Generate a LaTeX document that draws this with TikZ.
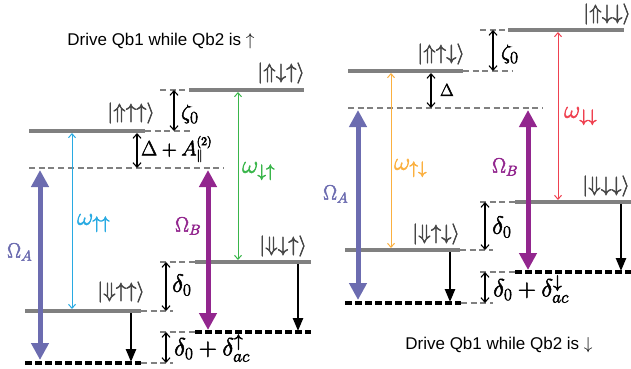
\documentclass[tikz,border=0pt]{standalone}
\usepackage{fontspec}
\newfontfamily\titlefont{Liberation Sans}
\usetikzlibrary{arrows.meta}
\DeclareMathSizes{18}{18}{13}{10}
\DeclareMathSizes{20}{20}{13}{10}
\DeclareMathSizes{21}{21}{15}{11}
\DeclareMathSizes{22}{22}{16}{11}
\DeclareMathSizes{23}{23}{17}{12}
\definecolor{cA}{RGB}{108,108,176}
\definecolor{cB}{RGB}{146,38,142}
\definecolor{cuu}{RGB}{40,170,226}
\definecolor{cdu}{RGB}{57,181,74}
\definecolor{cud}{RGB}{251,176,64}
\definecolor{cdd}{RGB}{239,65,80}
\definecolor{lev}{RGB}{128,128,128}
\definecolor{ketc}{RGB}{70,70,70}
\newcommand\hv[1]{\special{pdf:literal direct 2 Tr 0.5 w}#1\special{pdf:literal direct 0 Tr}}
\newcommand\ketq[3]{\hv{$|{#1}{#2}{#3}\rangle$}}
\tikzset{
  level/.style={draw=lev, line width=4pt},
  ground/.style={draw=black, line width=4pt, dash pattern=on 7pt off 3pt},
  guide/.style={draw=lev, line width=1.3pt, dash pattern=on 6pt off 3.7pt},
  gap/.style={black, line width=1.1pt, {Straight Barb[length=4.5pt,width=8pt]}-{Straight Barb[length=4.5pt,width=8pt]}},
  drive/.style={line width=5pt, {Triangle[length=17pt,width=17pt]}-{Triangle[length=17pt,width=17pt]}},
  trans/.style={line width=1pt, {Straight Barb[length=4pt,width=7pt]}-{Straight Barb[length=4pt,width=7pt]}},
  decay/.style={line width=2.5pt, -{Triangle[length=13pt,width=10pt]}},
  ket/.style={text=ketc, inner sep=0pt, font=\fontsize{20}{22}\selectfont},
  zlab/.style={inner sep=0pt, anchor=west, font=\fontsize{22}{24}\selectfont},
  dlab/.style={inner sep=0pt, anchor=west, font=\fontsize{23}{25}\selectfont},
  wlab/.style={inner sep=0pt, anchor=west, font=\fontsize{23}{25}\selectfont},
  biglab/.style={inner sep=0pt, anchor=west, font=\fontsize{21}{23}\selectfont},
  ttl/.style={inner sep=0pt, font=\fontsize{17}{20}\titlefont}
}
\begin{document}
\begin{tikzpicture}[x=1pt,y=-1pt]
\useasboundingbox (0,0) rectangle (631,368);
% ---------------- left panel ----------------
\node[ttl] (t1) at (161,41) {Drive Qb1 while Qb2 is $\uparrow$};
% levels
\coordinate (a1w) at (29,131); \coordinate (a1e) at (145,131); \coordinate (a1g) at (192,131);
\coordinate (a2w) at (189,90); \coordinate (a2e) at (304,90); \coordinate (a2g) at (160,90);
\coordinate (a0w) at (29,168); \coordinate (a0e) at (224,168);
\coordinate (a3w) at (25,311); \coordinate (a3e) at (141,311); \coordinate (a3g) at (173,311);
\coordinate (a3gw) at (25,363); \coordinate (a3ge) at (141,363); \coordinate (a3gg) at (173,363);
\coordinate (a4w) at (195,262); \coordinate (a4e) at (311,262); \coordinate (a4g) at (160,262);
\coordinate (a4gw) at (195,332); \coordinate (a4ge) at (311,332); \coordinate (a4gg) at (160,332);
\draw[guide] (a1e) -- (a1g);
\draw[guide] (a2g) -- (a2w);
\draw[guide] (a0w) -- (a0e);
\draw[guide] (a3e) -- (a3g);
\draw[guide] (a3ge) -- (a3gg);
\draw[guide] (a4g) -- (a4w);
\draw[guide] (a4gg) -- (a4gw);
\draw[level] (a1w) -- (a1e);
\draw[level] (a2w) -- (a2e);
\draw[level] (a3w) -- (a3e);
\draw[level] (a4w) -- (a4e);
\draw[ground] (a3gw) -- (a3ge);
\draw[ground] (a4gw) -- (a4ge);
% kets
\node[ket] (k1) at (131,113) {\ketq{\Uparrow}{\uparrow}{\uparrow}};
\node[ket] (k2) at (281,73) {\ketq{\Uparrow}{\downarrow}{\uparrow}};
\node[ket] (k3) at (121,292) {\ketq{\Downarrow}{\uparrow}{\uparrow}};
\node[ket] (k4) at (283,246) {\ketq{\Downarrow}{\downarrow}{\uparrow}};
% gaps
\coordinate (z1t) at (174,90); \coordinate (z1b) at (174,131);
\draw[gap] (z1t) -- (z1b);
\node[zlab] (z1l) at (181,114) {\hv{$\zeta_0$}};
\coordinate (d1t) at (137,133); \coordinate (d1b) at (137,168);
\draw[gap] (d1t) -- (d1b);
\node[inner sep=0pt, anchor=west, font=\fontsize{20}{22}\selectfont] (d1l) at (141,149) {\hv{$\Delta+A_{\parallel}^{(2)}$}};
\coordinate (e1t) at (166,262); \coordinate (e1b) at (166,311);
\draw[gap] (e1t) -- (e1b);
\node[dlab] (e1l) at (172,285) {\hv{$\delta_0$}};
\coordinate (f1t) at (166,332); \coordinate (f1b) at (166,363);
\draw[gap] (f1t) -- (f1b);
\node[dlab] (f1l) at (174,348) {\hv{$\delta_0+\delta_{ac}^{\uparrow}$}};
% drives
\coordinate (oa1t) at (40,170); \coordinate (oa1b) at (40,360);
\draw[drive, cA] (oa1t) -- (oa1b);
\node[biglab, text=cA] (oa1l) at (7,252) {\hv{$\Omega_A$}};
\coordinate (ob1t) at (208,170); \coordinate (ob1b) at (208,330);
\draw[drive, cB] (ob1t) -- (ob1b);
\node[biglab, text=cB] (ob1l) at (175,226) {\hv{$\Omega_B$}};
% transitions
\coordinate (w1t) at (72,133); \coordinate (w1b) at (72,309);
\draw[trans, cuu] (w1t) -- (w1b);
\node[wlab, text=cuu] (w1l) at (77,223) {\hv{$\omega_{\uparrow\uparrow}$}};
\coordinate (w2t) at (238,92); \coordinate (w2b) at (238,260);
\draw[trans, cdu] (w2t) -- (w2b);
\node[wlab, text=cdu] (w2l) at (242,171) {\hv{$\omega_{\downarrow\uparrow}$}};
% decays
\coordinate (r1t) at (131,313); \coordinate (r1b) at (131,362);
\draw[decay] (r1t) -- (r1b);
\coordinate (r2t) at (298,264); \coordinate (r2b) at (298,331);
\draw[decay] (r2t) -- (r2b);
% ---------------- right panel ----------------
\node[ttl] (t2) at (499,345) {Drive Qb1 while Qb2 is $\downarrow$};
\coordinate (b1w) at (348,71); \coordinate (b1e) at (463,71); \coordinate (b1g) at (512,71);
\coordinate (b2w) at (508,30); \coordinate (b2e) at (624,30); \coordinate (b2g) at (480,30);
\coordinate (b0w) at (348,108); \coordinate (b0e) at (543,108);
\coordinate (b3w) at (345,250); \coordinate (b3e) at (460,250); \coordinate (b3g) at (493,250);
\coordinate (b3gw) at (345,303); \coordinate (b3ge) at (461,303); \coordinate (b3gg) at (493,303);
\coordinate (b4w) at (515,202); \coordinate (b4e) at (631,202); \coordinate (b4g) at (480,202);
\coordinate (b4gw) at (515,272); \coordinate (b4ge) at (631,272); \coordinate (b4gg) at (480,272);
\draw[guide] (b1e) -- (b1g);
\draw[guide] (b2g) -- (b2w);
\draw[guide] (b0w) -- (b0e);
\draw[guide] (b3e) -- (b3g);
\draw[guide] (b3ge) -- (b3gg);
\draw[guide] (b4g) -- (b4w);
\draw[guide] (b4gg) -- (b4gw);
\draw[level] (b1w) -- (b1e);
\draw[level] (b2w) -- (b2e);
\draw[level] (b3w) -- (b3e);
\draw[level] (b4w) -- (b4e);
\draw[ground] (b3gw) -- (b3ge);
\draw[ground] (b4gw) -- (b4ge);
\node[ket] (m1) at (441,54) {\ketq{\Uparrow}{\uparrow}{\downarrow}};
\node[ket] (m2) at (607,14) {\ketq{\Uparrow}{\downarrow}{\downarrow}};
\node[ket] (m3) at (436,234) {\ketq{\Downarrow}{\uparrow}{\downarrow}};
\node[ket] (m4) at (606,186) {\ketq{\Downarrow}{\downarrow}{\downarrow}};
\coordinate (z2t) at (493,30); \coordinate (z2b) at (493,71);
\draw[gap] (z2t) -- (z2b);
\node[zlab] (z2l) at (501,54) {\hv{$\zeta_0$}};
\coordinate (d2t) at (431,73); \coordinate (d2b) at (431,108);
\draw[gap] (d2t) -- (d2b);
\node[inner sep=0pt, anchor=west, font=\fontsize{18}{20}\selectfont] (d2l) at (440,90) {\hv{$\Delta$}};
\coordinate (e2t) at (485,202); \coordinate (e2b) at (485,250);
\draw[gap] (e2t) -- (e2b);
\node[dlab] (e2l) at (492,227) {\hv{$\delta_0$}};
\coordinate (f2t) at (485,272); \coordinate (f2b) at (485,303);
\draw[gap] (f2t) -- (f2b);
\node[dlab] (f2l) at (493,289) {\hv{$\delta_0+\delta_{ac}^{\downarrow}$}};
\coordinate (oa2t) at (358,110); \coordinate (oa2b) at (358,300);
\draw[drive, cA] (oa2t) -- (oa2b);
\node[biglab, text=cA] (oa2l) at (323,194) {\hv{$\Omega_A$}};
\coordinate (ob2t) at (528,110); \coordinate (ob2b) at (528,270);
\draw[drive, cB] (ob2t) -- (ob2b);
\node[biglab, text=cB] (ob2l) at (492,167) {\hv{$\Omega_B$}};
\coordinate (w3t) at (391,73); \coordinate (w3b) at (391,248);
\draw[trans, cud] (w3t) -- (w3b);
\node[wlab, text=cud] (w3l) at (394,168) {\hv{$\omega_{\uparrow\downarrow}$}};
\coordinate (w4t) at (558,32); \coordinate (w4b) at (558,200);
\draw[trans, cdd] (w4t) -- (w4b);
\node[wlab, text=cdd] (w4l) at (564,116) {\hv{$\omega_{\downarrow\downarrow}$}};
\coordinate (r3t) at (450,252); \coordinate (r3b) at (450,302);
\draw[decay] (r3t) -- (r3b);
\coordinate (r4t) at (621,204); \coordinate (r4b) at (621,271);
\draw[decay] (r4t) -- (r4b);
\end{tikzpicture}
\end{document}
